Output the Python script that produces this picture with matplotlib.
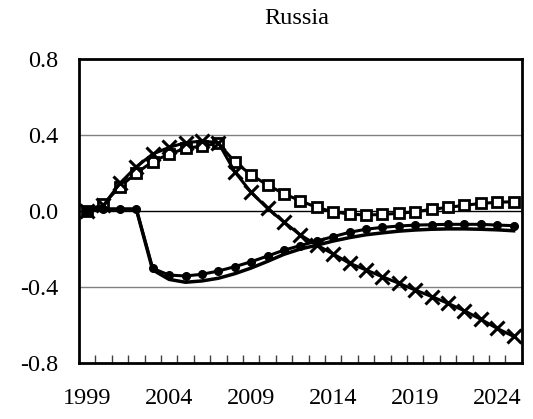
import matplotlib
matplotlib.use("Agg")
import matplotlib.pyplot as plt
import numpy as np

years = list(range(1999, 2026))
tick_labels = ["1999", "2004", "2009", "2014", "2019", "2024"]

series_x = [0.0, 0.03, 0.146, 0.233, 0.30, 0.335, 0.36, 0.368, 0.36,
            0.207, 0.098, 0.014, -0.058, -0.126, -0.179, -0.226, -0.275,
            -0.31, -0.346, -0.38, -0.416, -0.45, -0.486, -0.525, -0.57,
            -0.618, -0.66]
series_sq = [0.0, 0.037, 0.128, 0.20, 0.26, 0.30, 0.33, 0.342, 0.356,
             0.26, 0.19, 0.137, 0.091, 0.054, 0.019, -0.004, -0.016,
             -0.021, -0.018, -0.012, -0.004, 0.009, 0.019, 0.03, 0.04,
             0.046, 0.049]
series_dot = [0.0, 0.01, 0.01, 0.01, -0.302, -0.337, -0.342, -0.333,
              -0.316, -0.293, -0.267, -0.237, -0.206, -0.182, -0.158,
              -0.135, -0.112, -0.096, -0.086, -0.079, -0.074, -0.072,
              -0.07, -0.07, -0.07, -0.074, -0.077]
series_plain = [0.0, 0.01, 0.01, 0.01, -0.31, -0.36, -0.375, -0.368,
                -0.354, -0.33, -0.30, -0.265, -0.228, -0.20, -0.18,
                -0.158, -0.14, -0.125, -0.115, -0.106, -0.10, -0.096,
                -0.094, -0.094, -0.096, -0.099, -0.104]

serif = ["Liberation Serif", "DejaVu Serif"]
plt.rcParams["font.family"] = serif

fig = plt.figure(figsize=(5.33, 4.19), dpi=100)
ax = fig.add_axes([0.148, 0.1337, 0.831, 0.7253])

x = np.arange(len(years))

ax.axhline(0.4, color="#808080", lw=1.0, zorder=1)
ax.axhline(-0.4, color="#808080", lw=1.0, zorder=1)
ax.axhline(0.0, color="black", lw=1.0, zorder=1)

ax.plot(x, series_plain, color="black", lw=2.5, zorder=3)
ax.plot(x, series_sq, color="black", lw=2.2, marker="s", ms=7.5,
        mfc="white", mec="black", mew=2.0, zorder=4)
ax.plot(x, series_x, color="black", lw=2.2, marker="x", ms=9.5,
        mew=2.2, zorder=5)
ax.plot(x, series_dot, color="black", lw=2.2, marker="o", ms=5.5,
        zorder=6)

ax.set_xlim(-0.5, len(years) - 0.5)
ax.set_ylim(-0.8, 0.8)
ax.set_yticks([-0.8, -0.4, 0.0, 0.4, 0.8])
ax.set_yticklabels(["-0.8", "-0.4", "0.0", "0.4", "0.8"])
ax.tick_params(axis="y", length=0, pad=15, labelsize=17.5)

label_pos = [years.index(int(t)) for t in tick_labels]
ax.set_xticks(label_pos)
ax.set_xticklabels(tick_labels)
ax.tick_params(axis="x", which="major", length=0, pad=18, labelsize=17.5)
ax.set_xticks(np.arange(0.5, len(years) - 1, 1.0), minor=True)
ax.tick_params(axis="x", which="minor", direction="in", length=6,
               width=1, color="#404040")

for s in ax.spines.values():
    s.set_linewidth(2.0)
    s.set_color("black")

fig.text(0.557, 0.955, "Russia", ha="center", va="center", fontsize=17.5)

fig.savefig("out.png", dpi=100)
